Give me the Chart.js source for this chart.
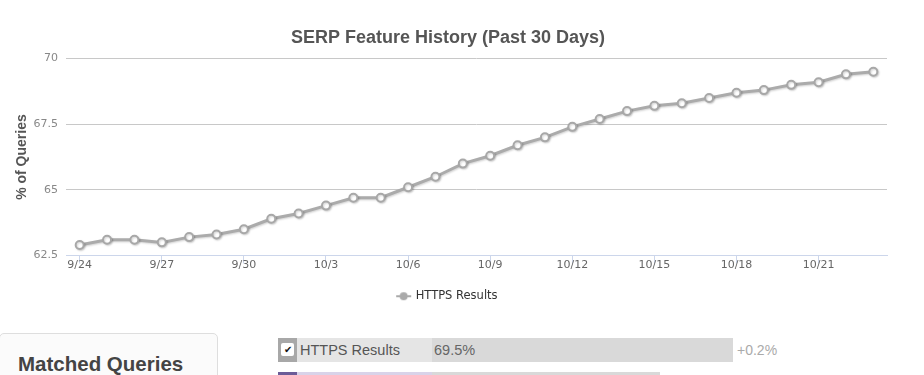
<!DOCTYPE html>
<html>
<head>
<meta charset="utf-8">
<script src="https://cdn.jsdelivr.net/npm/chart.js@4.4.0/dist/chart.umd.min.js"></script>
<style>
  body { margin: 0; background: #fff; width: 924px; height: 375px; overflow: hidden; position: relative; font-family: "Liberation Sans", Arial, sans-serif; }
  #wrap { position: absolute; left: 0; top: 0; width: 924px; height: 320px; }
  .box { position: absolute; left: -1px; top: 333px; width: 217px; height: 60px; border: 1px solid #dedede; border-radius: 5px; background: #fbfbfb; }
  .box h2 { margin: 0; position: absolute; left: 18px; top: 18px; font-size: 20.5px; font-weight: bold; color: #444; }
  .row { position: absolute; left: 278px; height: 24px; display: flex; font-size: 14.5px; line-height: 24px; }
  .chk { width: 19px; height: 24px; background: #a8a8a8; position: relative; }
  .chk span { position: absolute; left: 3px; top: 5px; width: 13px; height: 13px; background: #fff; border-radius: 2px; font-size: 10px; line-height: 13px; text-align: center; color: #111; }
  .lab { width: 135px; background: #e5e5e5; color: #555; padding-left: 3px; box-sizing: border-box; }
  .bar { width: 301px; background: #d9d9d9; color: #666; padding-left: 2px; box-sizing: border-box; }
  .chg { color: #aaa; padding-left: 4px; font-size: 14px; }
</style>
</head>
<body>
<div id="wrap"><canvas id="chart" width="924" height="320"></canvas></div>

<div class="box"><h2>Matched Queries</h2></div>
<div class="row" style="top:338px">
  <div class="chk"><span>&#10004;</span></div>
  <div class="lab">HTTPS Results</div>
  <div class="bar">69.5%</div>
  <div class="chg">+0.2%</div>
</div>
<div class="row" style="top:372px">
  <div class="chk" style="background:#6c5c98"></div>
  <div class="lab" style="background:#d9d3e9"></div>
  <div class="bar" style="width:228px"></div>
</div>

<script>
const days = ["9/24", "9/25", "9/26", "9/27", "9/28", "9/29", "9/30", "10/1", "10/2", "10/3",
  "10/4", "10/5", "10/6", "10/7", "10/8", "10/9", "10/10", "10/11", "10/12", "10/13",
  "10/14", "10/15", "10/16", "10/17", "10/18", "10/19", "10/20", "10/21", "10/22", "10/23"];
const httpsResults = [62.9, 63.1, 63.1, 63.0, 63.2, 63.3, 63.5, 63.9, 64.1, 64.4,
  64.7, 64.7, 65.1, 65.5, 66.0, 66.3, 66.7, 67.0, 67.4, 67.7,
  68.0, 68.2, 68.3, 68.5, 68.7, 68.8, 69.0, 69.1, 69.4, 69.5];
const yTicks = [62.5, 65, 67.5, 70];

// legend marker: a short line with a dot, highcharts-ish
const marker = document.createElement("canvas");
marker.width = 24; marker.height = 10;
const mctx = marker.getContext("2d");
mctx.strokeStyle = "#aaa"; mctx.lineWidth = 2;
mctx.beginPath(); mctx.moveTo(4, 5); mctx.lineTo(19, 5); mctx.stroke();
mctx.fillStyle = "#aaa";
mctx.beginPath(); mctx.arc(11.5, 5, 4, 0, Math.PI * 2); mctx.fill();

const lineShadow = {
  id: "lineShadow",
  beforeDatasetDraw(chart) {
    const c = chart.ctx;
    c.save();
    c.shadowColor = "rgba(0,0,0,0.18)";
    c.shadowOffsetX = 1;
    c.shadowOffsetY = 1;
    c.shadowBlur = 2;
  },
  afterDatasetDraw(chart) {
    chart.ctx.restore();
  }
};

new Chart(document.getElementById("chart"), {
  type: "line",
  data: {
    labels: days,
    datasets: [{
      label: "HTTPS Results",
      data: httpsResults,
      borderColor: "#ababab",
      borderWidth: 3,
      pointBackgroundColor: "#fff",
      pointBorderColor: "#a8a8a8",
      pointBorderWidth: 2,
      pointRadius: 4,
      tension: 0,
    }],
  },
  options: {
    responsive: false,
    animation: false,
    layout: { padding: { left: 9, right: 37, top: 0, bottom: 8 } },
    plugins: {
      title: {
        display: true,
        text: "SERP Feature History (Past 30 Days)",
        color: "#555",
        font: { family: "'Liberation Sans', Arial", size: 18, weight: "bold" },
        padding: { top: 27, bottom: 10 },
      },
      legend: {
        position: "bottom",
        labels: {
          usePointStyle: true,
          pointStyle: marker,
          color: "#333",
          font: { family: "'DejaVu Sans'", size: 11.5 },
          padding: 10,
        },
      },
      tooltip: { enabled: false },
    },
    scales: {
      x: {
        offset: true,
        afterFit: s => { s.height = 25; },
        border: { color: "#ccd6eb", width: 1 },
        grid: {
          drawOnChartArea: false,
          tickLength: 8,
          offset: false,
          color: ctx => (ctx.index % 3 === 0 ? "#ccd6eb" : "rgba(0,0,0,0)"),
        },
        ticks: {
          autoSkip: false,
          maxRotation: 0,
          padding: -5,
          color: "#666",
          font: { family: "'DejaVu Sans'", size: 11 },
          callback: (v, i) => (i % 3 === 0 ? days[i] : ""),
        },
      },
      y: {
        min: yTicks[0],
        max: yTicks[yTicks.length - 1],
        afterFit: s => { s.width = 57; },
        afterBuildTicks: s => { s.ticks = yTicks.map(v => ({ value: v })); },
        border: { display: false },
        grid: { color: "#c8c8c8", drawTicks: false },
        ticks: {
          padding: 8,
          color: "#888",
          font: { family: "'DejaVu Sans'", size: 11 },
        },
        title: {
          display: true,
          text: "% of Queries",
          color: "#555",
          font: { family: "'Liberation Sans', Arial", size: 14, weight: "bold" },
          padding: { top: 5, bottom: 0 },
        },
      },
    },
  },
  plugins: [lineShadow],
});
</script>
</body>
</html>
